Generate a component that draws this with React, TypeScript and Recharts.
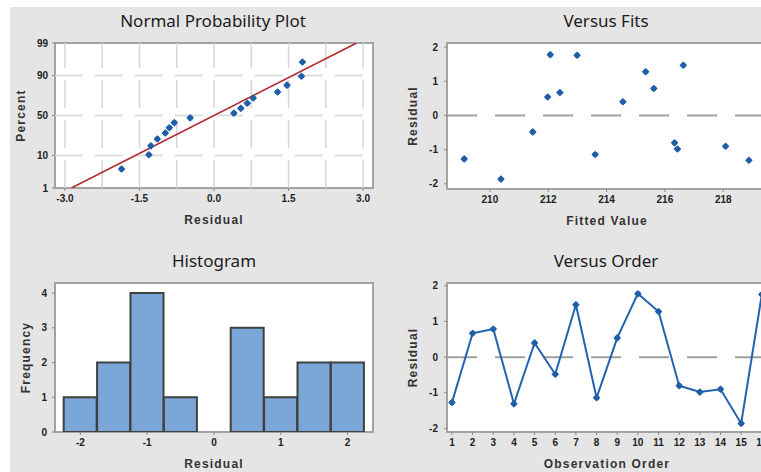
import {
  ComposedChart,
  ScatterChart,
  Scatter,
  Line,
  Bar,
  XAxis,
  YAxis,
  CartesianGrid,
  ReferenceLine,
  ReferenceArea,
} from 'recharts';

// residuals, in observation order
const observations = [1, 2, 3, 4, 5, 6, 7, 8, 9, 10, 11, 12, 13, 14, 15, 16];
const residuals = [-1.27, 0.67, 0.79, -1.31, 0.4, -0.48, 1.47, -1.14, 0.54, 1.78, 1.28, -0.8, -0.98, -0.9, -1.86, 1.76];
const fittedValues = [209.12, 212.4, 215.62, 218.88, 214.56, 211.47, 216.63, 213.61, 211.98, 212.07, 215.34, 216.33, 216.43, 218.08, 210.38, 212.99];

// normal probability plot (sorted residuals vs percent)
const normalPercents = [4.3, 10.4, 16.5, 22.6, 28.7, 34.8, 40.9, 47.0, 53.0, 59.1, 65.2, 71.3, 77.4, 83.5, 89.6, 95.7];
const fitLineResiduals = [-2.87, 2.87];
const fitLinePercents = [1, 99];
const percentTicks = [1, 10, 50, 90, 99];
const normalXTicks = [-3, -1.5, 0, 1.5, 3];
const normalGridX = [-3, -2.25, -1.5, -0.75, 0, 0.75, 1.5, 2.25, 3];
const normalGridPct = [10, 50, 90];

// histogram
const histMidpoints = [-2, -1.5, -1, -0.5, 0, 0.5, 1, 1.5, 2];
const histCounts = [1, 2, 4, 1, 0, 3, 1, 2, 2];
const histTicks = [-2, -1, 0, 1, 2];
const freqTicks = [0, 1, 2, 3, 4];

const fitTicks = [210, 212, 214, 216, 218];
const residualTicks = [-2, -1, 0, 1, 2];

const BLUE = '#1f5fa8';
const FRAME = '#a3a3a3';
const BG = '#e5e5e5';

// inverse normal cdf (Acklam) - used as the probability axis transform
function probit(p: number) {
  const a = [-39.69683028665376, 220.9460984245205, -275.9285104469687, 138.357751867269, -30.66479806614716, 2.506628277386982];
  const b = [-54.47609879822406, 161.5858368580409, -155.6989798598866, 66.80131188771972, -13.28068155288572];
  const c = [-0.007784894002430293, -0.3223964580411365, -2.400758277161838, -2.549732539343734, 4.374664141464968, 2.938163982698783];
  const d = [0.007784695709041462, 0.3224671290700398, 2.445134137142996, 3.754408661907416];
  const lo = 0.02425;
  if (p < lo) {
    const q = Math.sqrt(-2 * Math.log(p));
    return (((((c[0] * q + c[1]) * q + c[2]) * q + c[3]) * q + c[4]) * q + c[5]) / ((((d[0] * q + d[1]) * q + d[2]) * q + d[3]) * q + 1);
  }
  if (p > 1 - lo) {
    const q = Math.sqrt(-2 * Math.log(1 - p));
    return -(((((c[0] * q + c[1]) * q + c[2]) * q + c[3]) * q + c[4]) * q + c[5]) / ((((d[0] * q + d[1]) * q + d[2]) * q + d[3]) * q + 1);
  }
  const q = p - 0.5;
  const r = q * q;
  return ((((((a[0] * r + a[1]) * r + a[2]) * r + a[3]) * r + a[4]) * r + a[5]) * q) / (((((b[0] * r + b[1]) * r + b[2]) * r + b[3]) * r + b[4]) * r + 1);
}
const pz = (pct: number) => probit(pct / 100);

const sortedResiduals = [...residuals].sort((x, y) => x - y);
const normalData = sortedResiduals.map((r, i) => ({ x: r, z: pz(normalPercents[i]) }));
const fitLineData = fitLineResiduals.map((r, i) => ({ x: r, z: pz(fitLinePercents[i]) }));
const fitsData = fittedValues.map((f, i) => ({ fit: f, res: residuals[i] }));
const orderData = observations.map((o, i) => ({ obs: o, res: residuals[i] }));
const histData = histMidpoints.map((m, i) => ({ mid: m, count: histCounts[i] }));

const tickStyle = { fontFamily: 'Liberation Sans, Arial, sans-serif', fontSize: 10, fontWeight: 700, fill: '#222' };
const labelStyle = { fontFamily: 'Liberation Sans, Arial, sans-serif', fontSize: 12, fontWeight: 700, fill: '#333', letterSpacing: 1.2 };

const Pip = (props: any) => {
  const { cx, cy } = props;
  if (cx == null || cy == null) return <g />;
  return (
    <g>
      <circle cx={cx} cy={cy} r={2.6} fill={BLUE} />
      <path d={`M${cx - 3.8},${cy}L${cx},${cy - 3.8}L${cx + 3.8},${cy}L${cx},${cy + 3.8}Z`} fill={BLUE} />
    </g>
  );
};

const Title = ({ text, cx, top }: { text: string; cx: number; top: number }) => (
  <div
    style={{
      position: 'absolute',
      left: cx - 150,
      top,
      width: 300,
      textAlign: 'center',
      fontFamily: '"Noto Sans", sans-serif',
      fontSize: 17,
      lineHeight: '17px',
      color: '#1c1c1c',
    }}
  >
    {text}
  </div>
);

const yLabel = (value: string, offset: number) => ({
  value,
  angle: -90,
  position: 'insideLeft' as const,
  offset,
  style: { ...labelStyle, textAnchor: 'middle' as const },
});
const xLabel = (value: string) => ({ value, position: 'insideBottom' as const, offset: 4, style: labelStyle });

const axisCommon = {
  axisLine: false,
  tickLine: { stroke: '#888' },
  tickSize: 3,
  tick: tickStyle,
  allowDataOverflow: true,
};

const NX: [number, number] = [-3.2, 3.2];
const NY: [number, number] = [pz(1), pz(99)];
const FX: [number, number] = [208.53, 219.5];
const RY: [number, number] = [-2.15, 2.12];
const HX: [number, number] = [-2.38, 2.38];
const HY: [number, number] = [0, 4.29];
const OX: [number, number] = [0.76, 16.25];
const OY: [number, number] = [-2.1, 2.08];

const NormalPlot = () => (
  <ComposedChart width={380} height={240} margin={{ top: 43, right: 7, bottom: 12, left: 10 }}>
    <CartesianGrid fill="#fff" horizontal={false} vertical={false} />
    {normalGridX.map((v) => (
      <ReferenceLine key={'gx' + v} x={v} stroke="#d6d6d6" strokeWidth={1.5} strokeDasharray="28 12" />
    ))}
    {normalGridPct.map((v) => (
      <ReferenceLine key={'gy' + v} y={pz(v)} stroke="#d6d6d6" strokeWidth={1.5} strokeDasharray="28 12" />
    ))}
    <XAxis
      {...axisCommon}
      type="number"
      dataKey="x"
      domain={NX}
      ticks={normalXTicks}
      tickFormatter={(v: number) => v.toFixed(1)}
      tickMargin={4}
      height={40}
      label={xLabel('Residual')}
    />
    <YAxis
      {...axisCommon}
      type="number"
      dataKey="z"
      domain={NY}
      ticks={percentTicks.map(pz)}
      tickFormatter={(v: number) => {
        const i = percentTicks.findIndex((p) => Math.abs(pz(p) - v) < 1e-6);
        return i >= 0 ? String(percentTicks[i]) : '';
      }}
      tickMargin={4}
      width={45}
      label={yLabel('Percent', 11)}
    />
    <Line data={fitLineData} dataKey="z" type="linear" stroke="#b3282d" strokeWidth={1.6} dot={false} isAnimationActive={false} />
    <Scatter data={normalData} dataKey="z" fill={BLUE} shape={Pip} isAnimationActive={false} />
    <ReferenceArea x1={NX[0]} x2={NX[1]} y1={NY[0]} y2={NY[1]} fill="none" stroke={FRAME} strokeWidth={2} ifOverflow="visible" />
  </ComposedChart>
);

const VersusFits = () => (
  <ScatterChart width={400} height={240} margin={{ top: 43, right: 13, bottom: 11, left: 10 }}>
    <CartesianGrid fill="#fff" horizontal={false} vertical={false} />
    <ReferenceLine y={0} stroke="#a0a0a0" strokeWidth={2} strokeDasharray="30 18" />
    <XAxis {...axisCommon} type="number" dataKey="fit" domain={FX} ticks={fitTicks} tickMargin={4} height={40} label={xLabel('Fitted Value')} />
    <YAxis {...axisCommon} type="number" dataKey="res" domain={RY} ticks={residualTicks} tickMargin={6} width={57} label={yLabel('Residual', 23)} />
    <Scatter data={fitsData} fill={BLUE} shape={Pip} isAnimationActive={false} />
    <ReferenceArea x1={FX[0]} x2={FX[1]} y1={RY[0]} y2={RY[1]} fill="none" stroke={FRAME} strokeWidth={2} ifOverflow="visible" />
  </ScatterChart>
);

const Histogram = () => (
  <ComposedChart width={380} height={232} data={histData} barCategoryGap={0} barGap={0} margin={{ top: 43, right: 7, bottom: 0, left: 10 }}>
    <CartesianGrid fill="#fff" horizontal={false} vertical={false} />
    <XAxis {...axisCommon} type="number" dataKey="mid" domain={HX} ticks={histTicks} tickMargin={4} height={40} label={xLabel('Residual')} />
    <YAxis {...axisCommon} type="number" domain={HY} ticks={freqTicks} tickMargin={5} width={45} label={yLabel('Frequency', 16)} />
    <Bar dataKey="count" fill="#7ba6d8" stroke="#404040" strokeWidth={2} isAnimationActive={false} />
    <ReferenceArea x1={HX[0]} x2={HX[1]} y1={HY[0]} y2={HY[1]} fill="none" stroke={FRAME} strokeWidth={2} ifOverflow="visible" />
  </ComposedChart>
);

const VersusOrder = () => (
  <ComposedChart width={400} height={232} data={orderData} margin={{ top: 43, right: 13, bottom: 0, left: 10 }}>
    <CartesianGrid fill="#fff" horizontal={false} vertical={false} />
    <ReferenceLine y={0} stroke="#a0a0a0" strokeWidth={2} strokeDasharray="30 18" />
    <XAxis {...axisCommon} type="number" dataKey="obs" domain={OX} ticks={observations} interval={0} tickMargin={4} height={40} label={xLabel('Observation Order')} />
    <YAxis {...axisCommon} type="number" domain={OY} ticks={residualTicks} tickMargin={6} width={57} label={yLabel('Residual', 23)} />
    <Line
      dataKey="res"
      type="linear"
      stroke="#2263b0"
      strokeWidth={2}
      dot={(p: any) => <Pip key={'d' + p.index} {...p} />}
      isAnimationActive={false}
    />
    <ReferenceArea x1={OX[0]} x2={OX[1]} y1={OY[0]} y2={OY[1]} fill="none" stroke={FRAME} strokeWidth={2} ifOverflow="visible" />
  </ComposedChart>
);

export default function App() {
  return (
    <div style={{ position: 'absolute', left: 0, top: 0, width: 761, height: 472, overflow: 'hidden', background: '#fff' }}>
      <div style={{ position: 'absolute', left: 10, top: 7, right: 0, bottom: 0, background: BG }} />
      <Title text="Normal Probability Plot" cx={213} top={12} />
      <Title text="Versus Fits" cx={606} top={12} />
      <Title text="Histogram" cx={214} top={252} />
      <Title text="Versus Order" cx={606} top={252} />
      <div style={{ position: 'absolute', left: 0, top: 0 }}>
        <NormalPlot />
      </div>
      <div style={{ position: 'absolute', left: 380, top: 0 }}>
        <VersusFits />
      </div>
      <div style={{ position: 'absolute', left: 0, top: 240 }}>
        <Histogram />
      </div>
      <div style={{ position: 'absolute', left: 380, top: 240 }}>
        <VersusOrder />
      </div>
    </div>
  );
}
